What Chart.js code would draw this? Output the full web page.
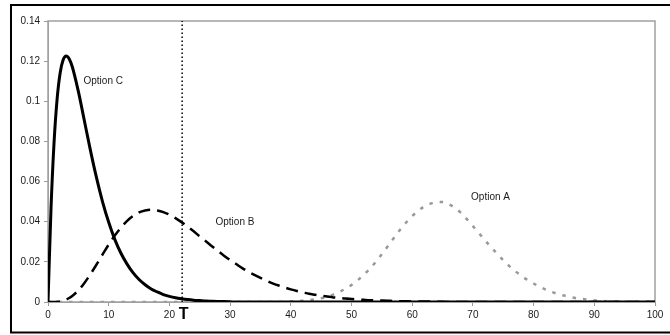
<!DOCTYPE html>
<html><head><meta charset="utf-8">
<script src="https://cdn.jsdelivr.net/npm/chart.js@4.4.0/dist/chart.umd.min.js"></script>
<style>html,body{margin:0;padding:0;background:#fff}#wrap{width:670px;height:335px;position:relative}</style>
</head><body><div id="wrap"><canvas id="c" width="670" height="335"></canvas></div>
<script>
// ---- data ----
const cX = [0,0.5,1,1.5,2,2.5,3,3.5,4,5,6,7,8,9,10,11,12,13,14,15,16,17,18,19,20,21,22,23,24,25,26,27,28,29,30,31,100];
const cY = [0,0.047,0.0796,0.1011,0.1141,0.1207,0.1226,0.1211,0.1172,0.1049,0.0902,0.0754,0.0618,0.0498,0.0397,0.0312,0.0244,0.019,0.0146,0.0112,0.0086,0.0065,0.005,0.0037,0.0028,0.0021,0.0016,0.0012,0.0009,0.0007,0.0005,0.0004,0.0003,0.0002,0.0001,0,0];

const bX = [0,1,1.5,2,2.5,3,3.5,4,5,6,7,8,9,10,11,12,13,14,15,16,17,18,19,20,21,22,23,24,25,26,27,28,29,30,31,32,33,34,35,36,37,38,39,40,41,42,43,44,45,46,47,48,49,50,51,52,53,54,55,56,57,58,59,60,61,62,63,64,65,66,100];
const bY = [0,0,0.0001,0.0003,0.0007,0.0012,0.002,0.003,0.0058,0.0095,0.0139,0.0187,0.0237,0.0286,0.0331,0.037,0.0403,0.0428,0.0446,0.0456,0.046,0.0456,0.0448,0.0435,0.0418,0.0398,0.0375,0.0352,0.0327,0.0303,0.0278,0.0254,0.0231,0.0209,0.0189,0.0169,0.0151,0.0135,0.012,0.0106,0.0093,0.0082,0.0072,0.0063,0.0055,0.0048,0.0041,0.0036,0.0031,0.0027,0.0023,0.002,0.0017,0.0015,0.0013,0.0011,0.0009,0.0008,0.0007,0.0006,0.0005,0.0004,0.0004,0.0003,0.0003,0.0002,0.0002,0.0001,0.0001,0,0];

const aX = [0,38,39,40,41,42,43,44,45,46,47,48,49,50,51,52,53,54,55,56,57,58,59,60,61,62,63,64,65,66,67,68,69,70,71,72,73,74,75,76,77,78,79,80,81,82,83,84,85,86,87,88,89,90,91,92,93,94,95,96,100];
const aY = [0,0,0.0001,0.0002,0.0004,0.0006,0.0009,0.0013,0.0019,0.0027,0.0037,0.005,0.0066,0.0085,0.0108,0.0135,0.0165,0.02,0.0238,0.0279,0.032,0.036,0.0396,0.0428,0.0455,0.0476,0.049,0.0498,0.0498,0.0487,0.047,0.0445,0.0413,0.0378,0.0343,0.0307,0.0273,0.024,0.0208,0.0179,0.0153,0.013,0.011,0.0092,0.0076,0.0062,0.005,0.004,0.0032,0.0025,0.0019,0.0015,0.0011,0.0008,0.0006,0.0004,0.0003,0.0002,0.0001,0,0];

const tX = 22.1;                       // threshold T
const labelText = ['Option A','Option B','Option C'];
const labelX = [72.9, 30.8, 9.1];
const labelY = [0.0524, 0.0399, 0.110];
const xMin = 0, xMax = 100, xStep = 10;
const yMin = 0, yMax = 0.14, yStep = 0.02;

const pts = (xs, ys) => xs.map((x, i) => ({x: x, y: ys[i]}));
const FONT = 'Liberation Sans, Arial, sans-serif';

const decor = {
  id: 'decor',
  beforeDatasetsDraw(chart) {
    const {ctx, chartArea: a} = chart;
    ctx.save();
    ctx.strokeStyle = '#a0a0a0';
    ctx.lineWidth = 1.5;
    ctx.strokeRect(a.left, a.top, a.right - a.left, a.bottom - a.top);
    ctx.restore();
  },
  afterDatasetsDraw(chart) {
    const {ctx, scales} = chart;
    ctx.save();
    ctx.fillStyle = '#1a1a1a';
    ctx.font = '10px ' + FONT;
    ctx.textAlign = 'center';
    ctx.textBaseline = 'middle';
    labelText.forEach((t, i) => {
      ctx.fillText(t, scales.x.getPixelForValue(labelX[i]), scales.y.getPixelForValue(labelY[i]));
    });
    ctx.fillStyle = '#000';
    ctx.font = 'bold 16px ' + FONT;
    ctx.textBaseline = 'top';
    ctx.fillText('T', scales.x.getPixelForValue(tX) + 1.5, scales.y.getPixelForValue(0) + 5);
    ctx.restore();
  },
  afterDraw(chart) {
    const ctx = chart.ctx;
    ctx.save();
    ctx.strokeStyle = '#000';
    ctx.lineWidth = 2;
    ctx.strokeRect(11, 5, 700, 327.5);
    ctx.restore();
  }
};

new Chart(document.getElementById('c'), {
  type: 'line',
  data: {
    datasets: [
      {label: 'Option C', data: pts(cX, cY), borderColor: '#000', borderWidth: 3, pointRadius: 0, cubicInterpolationMode: 'monotone', fill: false},
      {label: 'Option B', data: pts(bX, bY), borderColor: '#000', borderWidth: 2.5, borderDash: [12, 7], pointRadius: 0, cubicInterpolationMode: 'monotone', fill: false},
      {label: 'Option A', data: pts(aX, aY), borderColor: '#999', borderWidth: 2.5, borderDash: [3.5, 7], pointRadius: 0, cubicInterpolationMode: 'monotone', fill: false},
      {label: 'T', data: [{x: tX, y: yMin}, {x: tX, y: yMax}], borderColor: '#000', borderWidth: 1.5, borderDash: [1.5, 2.5], pointRadius: 0, fill: false}
    ]
  },
  options: {
    responsive: false,
    animation: false,
    events: [],
    layout: {padding: {left: 0, right: 15, top: 21, bottom: 0}},
    plugins: {legend: {display: false}, tooltip: {enabled: false}},
    scales: {
      x: {
        type: 'linear', min: xMin, max: xMax,
        ticks: {stepSize: xStep, color: '#1a1a1a', font: {family: FONT, size: 10}, padding: 3, maxRotation: 0, autoSkip: false},
        grid: {drawOnChartArea: false, drawTicks: true, tickLength: 4, color: '#999'},
        border: {display: true, color: '#a0a0a0', width: 1},
        afterFit(s) { s.height = 33; }
      },
      y: {
        type: 'linear', min: yMin, max: yMax,
        ticks: {stepSize: yStep, color: '#1a1a1a', font: {family: FONT, size: 10}, padding: 4, callback: v => String(+v.toFixed(2))},
        grid: {drawOnChartArea: false, drawTicks: true, tickLength: 4, color: '#999'},
        border: {display: true, color: '#a0a0a0', width: 1},
        afterFit(s) { s.width = 48; }
      }
    }
  },
  plugins: [decor]
});
</script>
</body></html>
